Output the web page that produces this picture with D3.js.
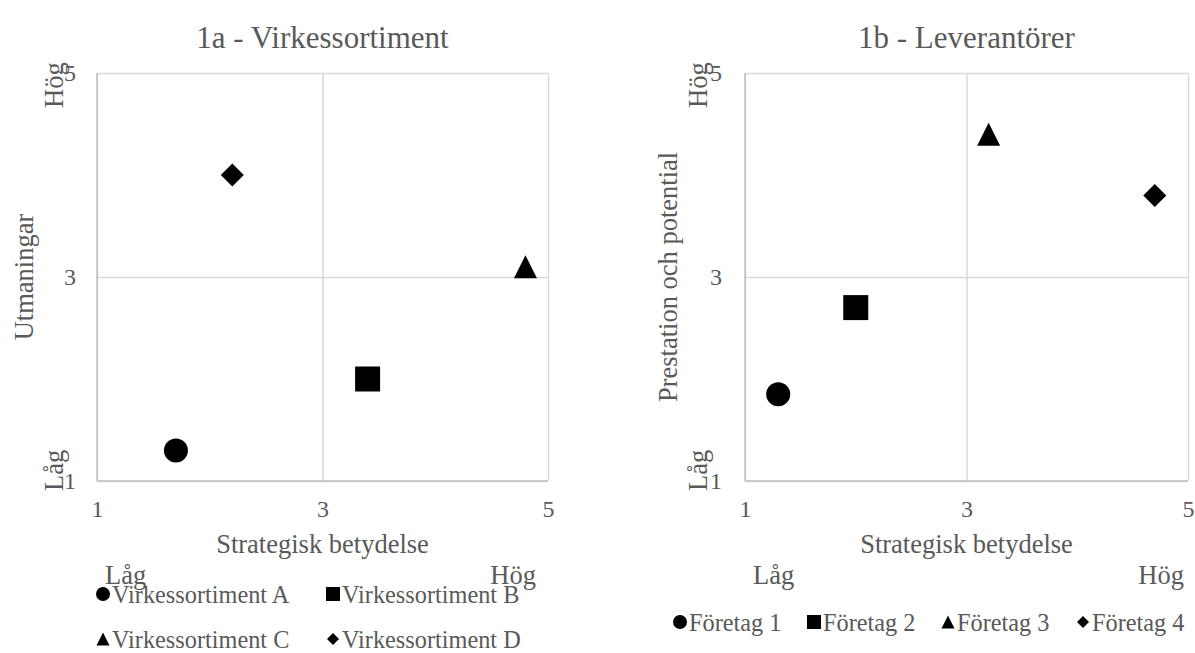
<!DOCTYPE html>
<html>
<head>
<meta charset="utf-8">
<script src="https://cdnjs.cloudflare.com/ajax/libs/d3/7.8.5/d3.min.js"></script>
<style>
  body { margin: 0; background: #fff; }
  text { font-family: "Liberation Serif", "Times New Roman", serif; fill: #595959; }
</style>
</head>
<body>
<script>
// chart 1a data
var names1 = ["Virkessortiment A", "Virkessortiment B", "Virkessortiment C", "Virkessortiment D"];
var xs1 = [1.7, 3.4, 4.8, 2.2];
var ys1 = [1.3, 2.0, 3.1, 4.0];

// chart 1b data
var names2 = ["Företag 1", "Företag 2", "Företag 3", "Företag 4"];
var xs2 = [1.3, 2.0, 3.2, 4.7];
var ys2 = [1.85, 2.7, 4.4, 3.8];

var tickVals = [1, 3, 5];
var shapes = ["circle", "square", "triangle", "diamond"];

// marker shapes, "size" here is the marker width in px
var shapeTypes = {
    circle: { draw: function (c, s) { var r = s / 2; c.moveTo(r, 0); c.arc(0, 0, r, 0, 2 * Math.PI); } },
    square: { draw: function (c, s) { var r = s / 2; c.rect(-r, -r, s, s); } },
    triangle: { draw: function (c, s) { var r = s / 2; c.moveTo(0, -r); c.lineTo(r, r); c.lineTo(-r, r); c.closePath(); } },
    diamond: { draw: function (c, s) { var r = s / 2; c.moveTo(0, -r); c.lineTo(r, 0); c.lineTo(0, r); c.lineTo(-r, 0); c.closePath(); } }
};
var markerSize = { circle: 24, square: 25, triangle: 23, diamond: 23 };
var legendSize = { circle: 14, square: 14, triangle: 13, diamond: 12 };

var svg = d3.select("body")
    .append("svg")
    .attr("width", 1195)
    .attr("height", 653);

function drawChart(cfg) {
    var x = d3.scaleLinear().domain([1, 5]).range([cfg.left, cfg.right]);
    var y = d3.scaleLinear().domain([1, 5]).range([481, 73]);
    var g = svg.append("g");

    //gridlines
    g.append("g")
        .attr("transform", "translate(0,481)")
        .call(d3.axisBottom(x).tickValues(tickVals).tickSize(-408).tickFormat(""))
        .call(function (a) { a.select(".domain").remove(); })
        .selectAll("line").attr("stroke", "#d9d9d9").attr("stroke-width", 1.5);
    g.append("g")
        .attr("transform", "translate(" + cfg.left + ",0)")
        .call(d3.axisLeft(y).tickValues(tickVals).tickSize(-(cfg.right - cfg.left)).tickFormat(""))
        .call(function (a) { a.select(".domain").remove(); })
        .selectAll("line").attr("stroke", "#d9d9d9").attr("stroke-width", 1.5);

    //axis lines
    g.append("line").attr("x1", cfg.left).attr("x2", cfg.right).attr("y1", 481).attr("y2", 481)
        .attr("stroke", "#bfbfbf").attr("stroke-width", 1.5);
    g.append("line").attr("x1", cfg.left).attr("x2", cfg.left).attr("y1", 73).attr("y2", 481)
        .attr("stroke", "#bfbfbf").attr("stroke-width", 1.5);

    //tick labels
    var xa = g.append("g")
        .attr("transform", "translate(0,481)")
        .call(d3.axisBottom(x).tickValues(tickVals).tickSize(0).tickFormat(d3.format("d")));
    xa.select(".domain").remove();
    xa.selectAll("text").attr("y", 36).attr("dy", null)
        .style("font-size", "24px").style("font-family", null).attr("fill", null);

    var ya = g.append("g")
        .attr("transform", "translate(" + cfg.tickRight + ",0)")
        .call(d3.axisLeft(y).tickValues(tickVals).tickSize(0).tickPadding(0).tickFormat(d3.format("d")));
    ya.select(".domain").remove();
    ya.selectAll("text").attr("dy", "0.32em")
        .style("font-size", "24px").style("font-family", null).attr("fill", null);

    //title
    g.append("text")
        .attr("x", (cfg.left + cfg.right) / 2)
        .attr("y", 48)
        .attr("text-anchor", "middle")
        .style("font-size", "31px")
        .text(cfg.title);

    //x axis title
    g.append("text")
        .attr("x", (cfg.left + cfg.right) / 2)
        .attr("y", 553)
        .attr("text-anchor", "middle")
        .style("font-size", "26.5px")
        .text("Strategisk betydelse");

    g.append("text").attr("x", cfg.lowX).attr("y", 584).style("font-size", "26.5px").text("Låg");
    g.append("text").attr("x", cfg.highX).attr("y", 584).attr("text-anchor", "end")
        .style("font-size", "26.5px").text("Hög");

    //y axis title
    g.append("text")
        .attr("transform", "translate(" + cfg.yTitleX + ",277) rotate(-90)")
        .attr("text-anchor", "middle")
        .style("font-size", "26.5px")
        .text(cfg.yTitle);

    g.append("text")
        .attr("transform", "translate(" + cfg.hlX + ",108) rotate(-90)")
        .style("font-size", "26.5px")
        .text("Hög");
    g.append("text")
        .attr("transform", "translate(" + cfg.hlX + ",491) rotate(-90)")
        .style("font-size", "26.5px")
        .text("Låg");

    //markers
    g.selectAll(".pt")
        .data(cfg.names)
        .enter()
        .append("path")
        .attr("class", "pt")
        .attr("transform", function (d, i) { return "translate(" + x(cfg.xs[i]) + "," + y(cfg.ys[i]) + ")"; })
        .attr("d", function (d, i) { return d3.symbol().type(shapeTypes[shapes[i]]).size(markerSize[shapes[i]])(); })
        .attr("fill", "#000");

    //legend
    var leg = g.selectAll(".leg")
        .data(cfg.names)
        .enter()
        .append("g")
        .attr("transform", function (d, i) { return "translate(" + cfg.legend[i][0] + "," + cfg.legend[i][1] + ")"; });
    leg.append("path")
        .attr("d", function (d, i) { return d3.symbol().type(shapeTypes[shapes[i]]).size(legendSize[shapes[i]])(); })
        .attr("fill", "#000");
    leg.append("text")
        .attr("x", 9)
        .attr("y", 9)
        .style("font-size", "24.3px")
        .text(function (d) { return d; });
}

drawChart({
    title: "1a - Virkessortiment",
    yTitle: "Utmaningar",
    names: names1, xs: xs1, ys: ys1,
    left: 97, right: 548,
    tickRight: 76,
    yTitleX: 33, hlX: 63,
    lowX: 105, highX: 536,
    legend: [[103, 594], [333, 594], [103, 639], [333, 639]]
});

drawChart({
    title: "1b - Leverantörer",
    yTitle: "Prestation och potential",
    names: names2, xs: xs2, ys: ys2,
    left: 745, right: 1188,
    tickRight: 722,
    yTitleX: 677, hlX: 707,
    lowX: 753, highX: 1184,
    legend: [[680, 622], [814, 622], [948, 622], [1083, 622]]
});
</script>
</body>
</html>
